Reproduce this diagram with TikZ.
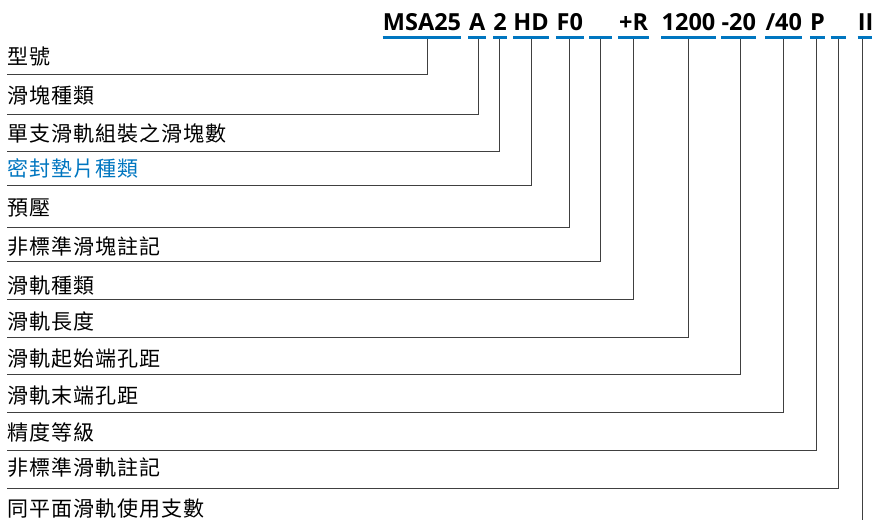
\documentclass[tikz,border=0pt]{standalone}
\usepackage{fontspec}
\setmainfont{Open Sans}
\newfontfamily\cjk[LetterSpace=5]{Noto Sans CJK TC}
\usepackage{tikz}
\definecolor{codeblue}{RGB}{0,118,192}

\begin{document}
\begin{tikzpicture}[x=1pt,y=-1pt,
  code/.style={anchor=base,inner xsep=0pt,inner ysep=7.3pt,text height=17pt,text depth=0pt,font=\fontsize{23.5}{26}\selectfont\bfseries},
  lab/.style={anchor=west,inner sep=0pt,text height=16pt,text depth=0pt,font=\fontsize{21}{24}\selectfont\cjk},
  uline/.style={draw=codeblue,line width=2.4pt},
  conn/.style={draw=black!75,line width=0.9pt}]
\useasboundingbox (0,0) rectangle (872,520);

\node[code,minimum width=77.4pt] (c1) at (422,30) {MSA25};
\node[code,minimum width=17.3pt] (c2) at (477.3,30) {A};
\node[code,minimum width=12pt] (c3) at (500,30) {2};
\node[code,minimum width=32pt] (c4) at (531,30) {HD};
\node[code,minimum width=27.6pt] (c5) at (569.8,30) {F0};
\node[code,minimum width=22.7pt] (c6) at (600.6,30) {};
\node[code,minimum width=31pt] (c7) at (633.6,30) {+R};
\node[code,minimum width=52.3pt] (c8) at (688.5,30) {1200};
\node[code,minimum width=29pt] (c9) at (738.8,30) {-20};
\node[code,minimum width=32.3pt] (c10) at (783.8,30) {/40};
\node[code,minimum width=15pt] (c11) at (817.5,30) {P};
\node[code,minimum width=15pt] (c12) at (838.3,30) {};
\node[code,minimum width=12.7pt] (c13) at (865.7,30) {II};

\node[lab] (l1) at (7,56.7) {型號};
\node[lab] (l2) at (7,95.3) {滑塊種類};
\node[lab] (l3) at (7,133) {單支滑軌組裝之滑塊數};
\node[lab,text=codeblue] (l4) at (7,168) {密封墊片種類};
\node[lab] (l5) at (7,207.5) {預壓};
\node[lab] (l6) at (7,246.7) {非標準滑塊註記};
\node[lab] (l7) at (7,285) {滑軌種類};
\node[lab] (l8) at (7,321.7) {滑軌長度};
\node[lab] (l9) at (7,358.3) {滑軌起始端孔距};
\node[lab] (l10) at (7,395) {滑軌末端孔距};
\node[lab] (l11) at (7,432.3) {精度等級};
\node[lab] (l12) at (7,467) {非標準滑軌註記};
\node[lab] (l13) at (7,508) {同平面滑軌使用支數};

\coordinate (h1) at (7,74);
\coordinate (h2) at (7,114);
\coordinate (h3) at (7,151.7);
\coordinate (h4) at (7,185.7);
\coordinate (h5) at (7,227.3);
\coordinate (h6) at (7,261.5);
\coordinate (h7) at (7,299.3);
\coordinate (h8) at (7,337.2);
\coordinate (h9) at (7,374.5);
\coordinate (h10) at (7,412.5);
\coordinate (h11) at (7,450);
\coordinate (h12) at (7,488);
\coordinate (h13) at (862.7,520);

\draw[conn] ([xshift=5.3pt]c1.south) |- (h1);
\draw[conn] ([xshift=1pt]c2.south) |- (h2);
\draw[conn] ([xshift=-1pt]c3.south) |- (h3);
\draw[conn] (c4.south) |- (h4);
\draw[conn] (c5.south) |- (h5);
\draw[conn] (c6.south) |- (h6);
\draw[conn] (c7.south) |- (h7);
\draw[conn] (c8.south) |- (h8);
\draw[conn] ([xshift=1.7pt]c9.south) |- (h9);
\draw[conn] (c10.south) |- (h10);
\draw[conn] ([xshift=-1.5pt]c11.south) |- (h11);
\draw[conn] (c12.south) |- (h12);
\draw[conn] ([xshift=-3pt]c13.south) -- (h13);

\foreach \n in {1,...,13}
  \draw[uline] (c\n.south west) -- (c\n.south east);
\end{tikzpicture}
\end{document}
